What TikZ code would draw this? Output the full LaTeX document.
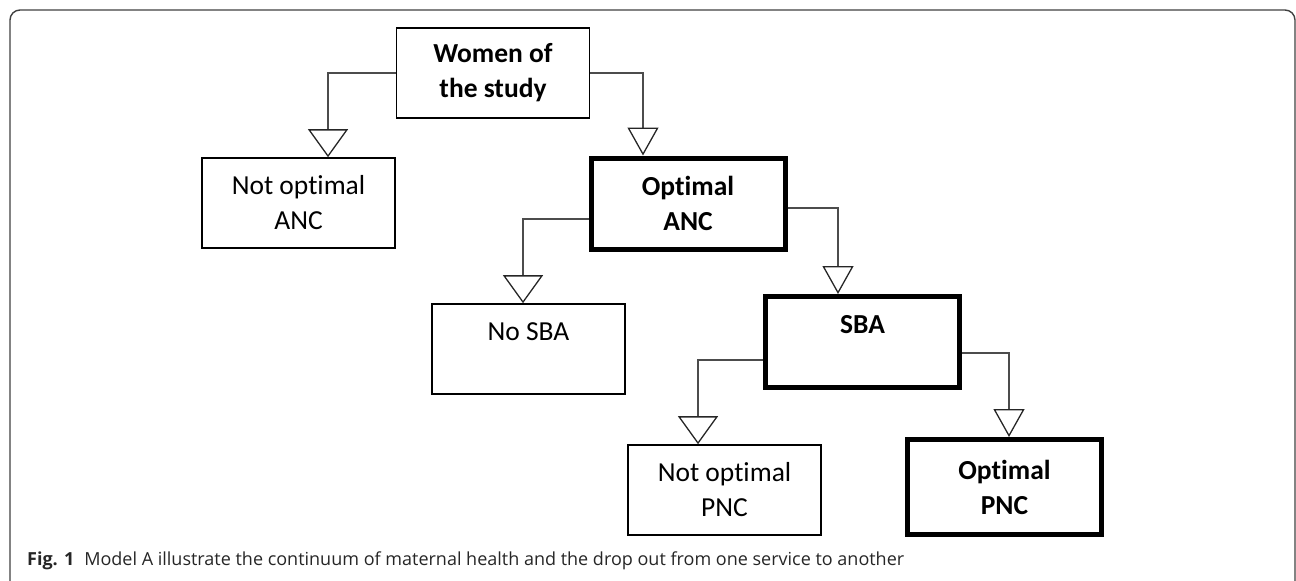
\documentclass[tikz,border=0pt]{standalone}
\usepackage{fontspec}
\setmainfont{Carlito}[Ligatures=NoCommon]
\newfontfamily\capfont{Open Sans}
\usetikzlibrary{arrows.meta}
\begin{document}
\begin{tikzpicture}[x=1pt,y=-1pt,
  thinbox/.style={draw=black, line width=1.6pt, rectangle, inner sep=0pt, align=center,
    font=\fontsize{27.5}{35}\selectfont, minimum width=193pt, minimum height=90pt},
  thickbox/.style={thinbox, line width=5pt, minimum width=194pt, minimum height=91pt,
    font=\bfseries\fontsize{27.5}{35}\selectfont},
  conn/.style={draw=black!70, line width=1.8pt},
  wide/.style={conn, -{Triangle[open, length=28pt, width=40pt, line width=1.3pt, color=black!85]}},
  narrow/.style={conn, -{Triangle[open, length=28pt, width=31pt, line width=1.3pt, color=black!85]}},
  captext/.style={anchor=base west, inner sep=0pt, font=\capfont\fontsize{18}{22}\selectfont, text=black!85}
]
\useasboundingbox (0,0) rectangle (1296,581);
\begin{scope}
  \clip (0,0) rectangle (1296,581);
  \draw[black!75, line width=1.4pt, rounded corners=10pt] (10,10) rectangle (1295,610);
\end{scope}

\node[thinbox, font=\bfseries\fontsize{27.5}{35}\selectfont] (women) at (493,73) {Women of\\the study};
\node[thinbox] (notanc) at (298.5,203) {Not optimal\\ANC};
\node[thickbox] (optanc) at (688,203.5) {Optimal\\ANC};
\node[thinbox] (nosba) at (528.5,349) {No SBA\\\mbox{}};
\node[thickbox] (sba) at (862.5,342) {SBA\\\mbox{}};
\node[thinbox] (notpnc) at (724.5,490) {Not optimal\\PNC};
\node[thickbox, minimum height=95pt] (optpnc) at (1004.5,487) {Optimal\\PNC};

\draw[wide] (women.west) -| ([xshift=29.5pt]notanc.north);
\draw[narrow] (women.east) -| ([xshift=-45pt]optanc.north);
\draw[wide] ([yshift=-15.5pt]optanc.west) -| ([xshift=-5.5pt]nosba.north);
\draw[narrow] ([yshift=-4.5pt]optanc.east) -| ([xshift=-24.5pt]sba.north);
\draw[wide] ([yshift=-18pt]sba.west) -| ([xshift=-26.5pt]notpnc.north);
\draw[narrow] ([yshift=-11pt]sba.east) -| ([xshift=4.5pt]optpnc.north);

\node[captext] (cap) at (27,565) {\textbf{Fig. 1}\hspace{0.55em}Model A illustrate the continuum of maternal health and the drop out from one service to another};
\end{tikzpicture}
\end{document}
